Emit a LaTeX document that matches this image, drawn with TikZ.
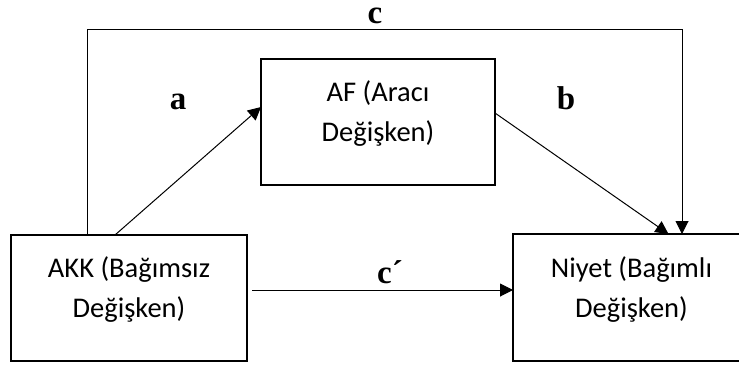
\documentclass[tikz,border=0pt]{standalone}
\usepackage{fontspec}
\setmainfont{Carlito}
\newfontfamily\labelfont{Liberation Serif}
\usetikzlibrary{arrows.meta,calc}
\tikzset{
  boxnode/.style={draw=black, line width=2.6pt, inner sep=0pt, outer sep=0pt},
  boxtext/.style={align=center, inner sep=0pt, font=\fontsize{28.5}{40}\selectfont},
  pathlabel/.style={anchor=base, inner sep=0pt, font=\labelfont\bfseries\fontsize{33}{36}\selectfont},
  conn/.style={draw=black, line width=1pt},
  arr/.style={conn, -{Triangle[length=13pt,width=13pt]}}
}
\begin{document}
\begin{tikzpicture}[x=1pt,y=-1pt]
\useasboundingbox (0,0) rectangle (739,365);
\clip (0,0) rectangle (739,365);
% boxes
\node[boxnode, minimum width=236pt, minimum height=126pt] (akk) at (129,298) {};
\node[boxnode, minimum width=234pt, minimum height=126pt] (af) at (378,122) {};
\node[boxnode, minimum width=237pt, minimum height=127pt] (niyet) at (631.5,297.5) {};
% box texts
\node[boxtext] (akkt) at ([yshift=8pt]akk.center) {AKK (Bağımsız\\Değişken)};
\node[boxtext] (aft) at ([yshift=8pt]af.center) {AF (Aracı\\Değişken)};
\node[boxtext] (niyett) at ([yshift=8pt]niyet.center) {Niyet (Bağımlı\\Değişken)};
% c path
\coordinate (c1) at (87,29);
\coordinate (c2) at (682,29);
\draw[arr] (akk.north -| c1) -- (c1) -- (c2) -- (niyet.north -| c2);
% a path
\draw[arr] ([xshift=-14pt]akk.north) -- ([yshift=15pt]af.west);
% b path
\draw[arr] ([yshift=9pt]af.east) -- ([xshift=37pt]niyet.north);
% c' path
\draw[arr] ([xshift=5pt,yshift=8pt]akk.east) -- ([yshift=7.5pt]niyet.west);
% labels
\node[pathlabel] (la) at (178,109) {a};
\node[pathlabel] (lb) at (566,109) {b};
\node[pathlabel] (lc) at (375,23) {c};
\node[pathlabel] (lcp) at (390,283) {c´};
\end{tikzpicture}
\end{document}
